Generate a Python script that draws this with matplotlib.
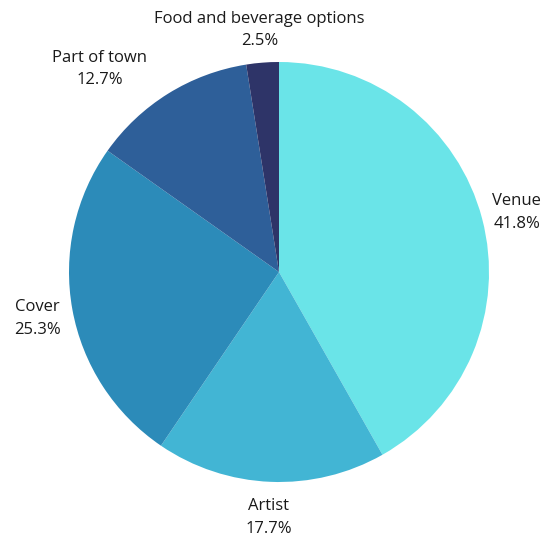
import matplotlib
matplotlib.use("Agg")
import matplotlib.pyplot as plt
import numpy as np

categories = ["Venue", "Artist", "Cover", "Part of town", "Food and beverage options"]
values = [41.8, 17.7, 25.3, 12.7, 2.5]
colors = ["#6ae4e8", "#42b5d4", "#2c8bb9", "#2e5f99", "#2e3468"]

plt.rcParams['font.family'] = ['Open Sans', 'DejaVu Sans']

W, H = 548, 537
fig = plt.figure(figsize=(W / 100, H / 100), dpi=100)
ax = fig.add_axes([0, 0, 1, 1])
cx, cy, R = 279, H - 272, 210
wedges, _ = ax.pie(values, colors=colors, startangle=90, counterclock=False,
                   center=(cx, cy), radius=R, frame=True)
ax.set_xlim(0, W)
ax.set_ylim(0, H)
ax.set_aspect('equal')
ax.axis('off')

cum = np.cumsum([0] + values[:-1])
for i, (cat, v) in enumerate(zip(categories, values)):
    mid = np.deg2rad(90 - (cum[i] + v / 2) * 3.6)
    d = 1.17 * R
    x, y = cx + d * np.cos(mid), cy + d * np.sin(mid) - 3
    if cat == "Part of town":
        x, y = 100, H - 69
    if cat == "Artist":
        y += 3
    ax.text(x, y, f"{cat}\n{v:.1f}%", ha='center', va='center', fontsize=12,
            color='#1a1a1a', linespacing=1.55)

fig.savefig("out.png", dpi=100)
